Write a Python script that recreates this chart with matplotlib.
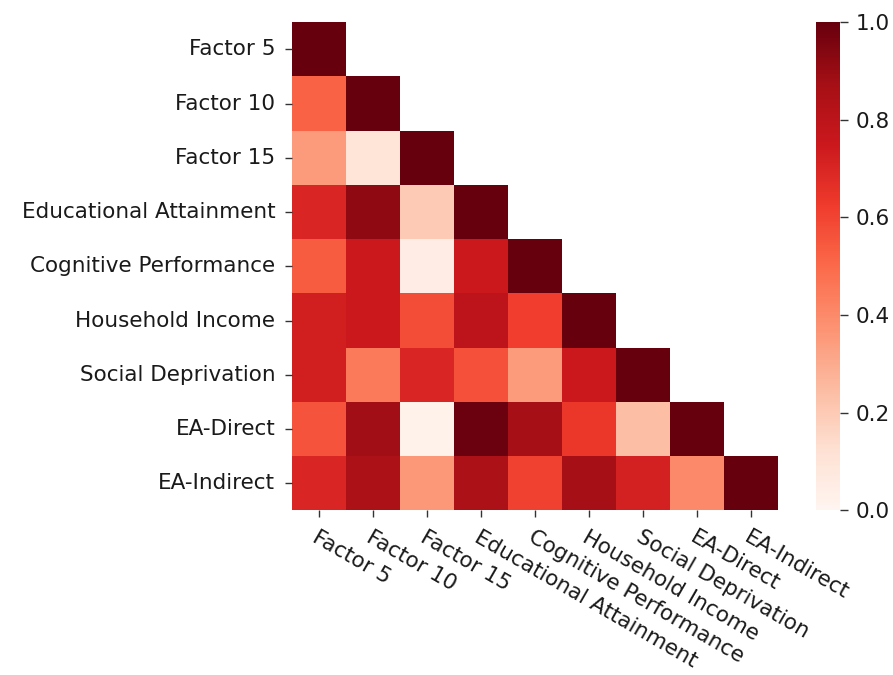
import numpy as np
import matplotlib
matplotlib.use("Agg")
import matplotlib.pyplot as plt
import seaborn as sns

labels = ["Factor 5", "Factor 10", "Factor 15", "Educational Attainment",
          "Cognitive Performance", "Household Income", "Social Deprivation",
          "EA-Direct", "EA-Indirect"]

# lower-triangle correlations, row by row
rows = [
    [1.0],
    [0.52, 1.0],
    [0.35, 0.10, 1.0],
    [0.70, 0.92, 0.20, 1.0],
    [0.54, 0.75, 0.05, 0.75, 1.0],
    [0.73, 0.75, 0.58, 0.80, 0.62, 1.0],
    [0.73, 0.45, 0.70, 0.57, 0.35, 0.75, 1.0],
    [0.56, 0.88, 0.02, 0.99, 0.87, 0.64, 0.24, 1.0],
    [0.70, 0.85, 0.36, 0.85, 0.61, 0.87, 0.72, 0.40, 1.0],
]

n = len(labels)
corr = np.zeros((n, n))
for i, r in enumerate(rows):
    corr[i, :len(r)] = r
    corr[:len(r), i] = r
mask = np.triu(np.ones_like(corr, dtype=bool), k=1)

fig = plt.figure(figsize=(8.93, 6.75), dpi=100)
ax = fig.add_axes([0.327, 0.244, 0.544, 0.723])
cax = fig.add_axes([0.914, 0.244, 0.027, 0.723])

sns.heatmap(corr, mask=mask, cmap="Reds", vmin=0, vmax=1, ax=ax, cbar_ax=cax,
            xticklabels=labels, yticklabels=labels)

for a in (ax, cax):
    a.tick_params(labelsize=15.5, length=5, width=1, color="#333333",
                  labelcolor="#1a1a1a")
ax.tick_params(axis="y", pad=7)
ax.tick_params(axis="x", pad=7)
cax.tick_params(length=6, pad=5)
plt.setp(ax.get_yticklabels(), rotation=0)
plt.setp(ax.get_xticklabels(), rotation=-30, ha="left", rotation_mode="anchor")

fig.savefig("out.png", dpi=100)
